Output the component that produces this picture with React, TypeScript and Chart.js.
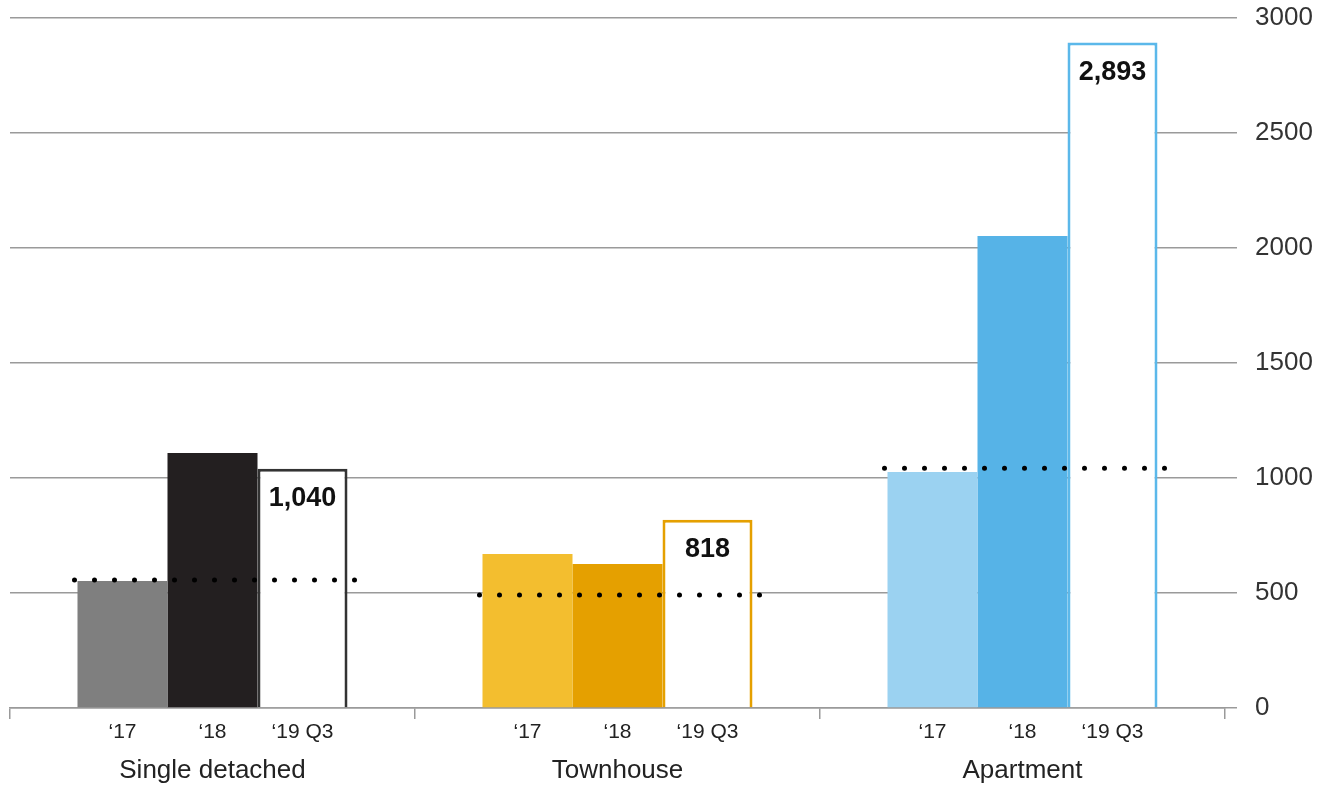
import React, { useEffect, useRef } from "react";
import { Chart, registerables } from "chart.js";

Chart.register(...registerables);

// Housing categories and the three reporting periods
const groups = ["Single detached", "Townhouse", "Apartment"];
const periods = ["\u201817", "\u201818", "\u201819 Q3"];

// Values per period, one entry per housing category
const values2017 = [552, 670, 1026];
const values2018 = [1109, 626, 2052];
const values2019Q3 = [1040, 818, 2893];

// Long-run averages shown as dotted reference lines
const averages = [556, 491, 1042];

// Y-axis tick values
const yTicks = [0, 500, 1000, 1500, 2000, 2500, 3000];

const colors2017 = ["#7f7f7f", "#f3be2f", "#9bd2f1"];
const colors2018 = ["#231f20", "#e5a000", "#56b3e7"];
const outline2019 = ["#333333", "#e5a000", "#5bb8ea"];

const FONT = "'Liberation Sans', Arial, Helvetica, sans-serif";

const overlayPlugin = {
  id: "overlay",
  afterDatasetsDraw(chart: any) {
    const { ctx } = chart;
    const x = chart.scales.x;
    const y = chart.scales.y;

    // Dotted average lines across each group
    ctx.save();
    ctx.strokeStyle = "#000";
    ctx.lineWidth = 5;
    ctx.lineCap = "round";
    ctx.setLineDash([0, 20]);
    averages.forEach((v, i) => {
      const cx = x.getPixelForValue(i);
      const py = y.getPixelForValue(v);
      ctx.beginPath();
      ctx.moveTo(cx - 138, py);
      ctx.lineTo(cx + 143, py);
      ctx.stroke();
    });
    ctx.restore();

    // Value labels inside the latest-period bars
    const meta3 = chart.getDatasetMeta(2);
    ctx.save();
    ctx.fillStyle = "#111";
    ctx.font = `bold 27px ${FONT}`;
    ctx.textAlign = "center";
    ctx.textBaseline = "middle";
    meta3.data.forEach((bar: any, i: number) => {
      ctx.fillText(values2019Q3[i].toLocaleString("en-US"), bar.x, bar.y + 30);
    });
    ctx.restore();

    // Period labels under each bar
    ctx.save();
    ctx.fillStyle = "#222";
    ctx.font = `21px ${FONT}`;
    ctx.textAlign = "center";
    ctx.textBaseline = "middle";
    const axisY = y.getPixelForValue(0);
    for (let d = 0; d < 3; d++) {
      const meta = chart.getDatasetMeta(d);
      meta.data.forEach((bar: any) => {
        ctx.fillText(periods[d], bar.x, axisY + 24);
      });
    }
    ctx.restore();
  },
};

export default function App() {
  const canvasRef = useRef<HTMLCanvasElement | null>(null);

  useEffect(() => {
    if (!canvasRef.current) return;
    const chart = new Chart(canvasRef.current, {
      type: "bar",
      data: {
        labels: groups,
        datasets: [
          {
            label: periods[0],
            data: values2017,
            backgroundColor: colors2017,
            borderWidth: 0,
          },
          {
            label: periods[1],
            data: values2018,
            backgroundColor: colors2018,
            borderWidth: 0,
          },
          {
            label: periods[2],
            data: values2019Q3,
            backgroundColor: "#ffffff",
            borderColor: outline2019,
            borderWidth: 3,
          },
        ],
      },
      options: {
        animation: false,
        responsive: true,
        maintainAspectRatio: false,
        layout: { padding: { left: 10, top: 18, right: 0, bottom: 0 } },
        datasets: {
          bar: { categoryPercentage: 2 / 3, barPercentage: 1 },
        },
        plugins: {
          legend: { display: false },
          tooltip: { enabled: false },
        },
        scales: {
          x: {
            grid: {
              display: true,
              drawOnChartArea: false,
              drawTicks: true,
              tickLength: 11,
              color: "#9a9a9a",
              lineWidth: 1.5,
              offset: true,
            },
            border: { display: true, color: "#9a9a9a", width: 1.5 },
            ticks: {
              color: "#222",
              font: { family: FONT, size: 26 },
              padding: 36,
              maxRotation: 0,
            },
            afterFit(scale: any) {
              scale.height = 77;
              scale.paddingLeft = 0;
              scale.paddingRight = 0;
            },
          },
          y: {
            position: "right",
            min: 0,
            max: 3000,
            afterBuildTicks(scale: any) {
              scale.ticks = yTicks.map((v) => ({ value: v }));
            },
            grid: {
              color: "#9a9a9a",
              lineWidth: 1.5,
              drawTicks: true,
              tickLength: 12,
            },
            border: { display: false },
            ticks: {
              color: "#333",
              font: { family: FONT, size: 26 },
              padding: 18,
              callback: (v: any) => String(v),
            },
            afterFit(scale: any) {
              scale.width = 96;
              scale.paddingTop = 0;
              scale.paddingBottom = 0;
            },
          },
        },
      },
      plugins: [overlayPlugin],
    });
    return () => chart.destroy();
  }, []);

  return (
    <div
      style={{
        position: "fixed",
        left: 0,
        top: 0,
        width: 1321,
        height: 785,
        background: "#fff",
      }}
    >
      <canvas ref={canvasRef} />
    </div>
  );
}
